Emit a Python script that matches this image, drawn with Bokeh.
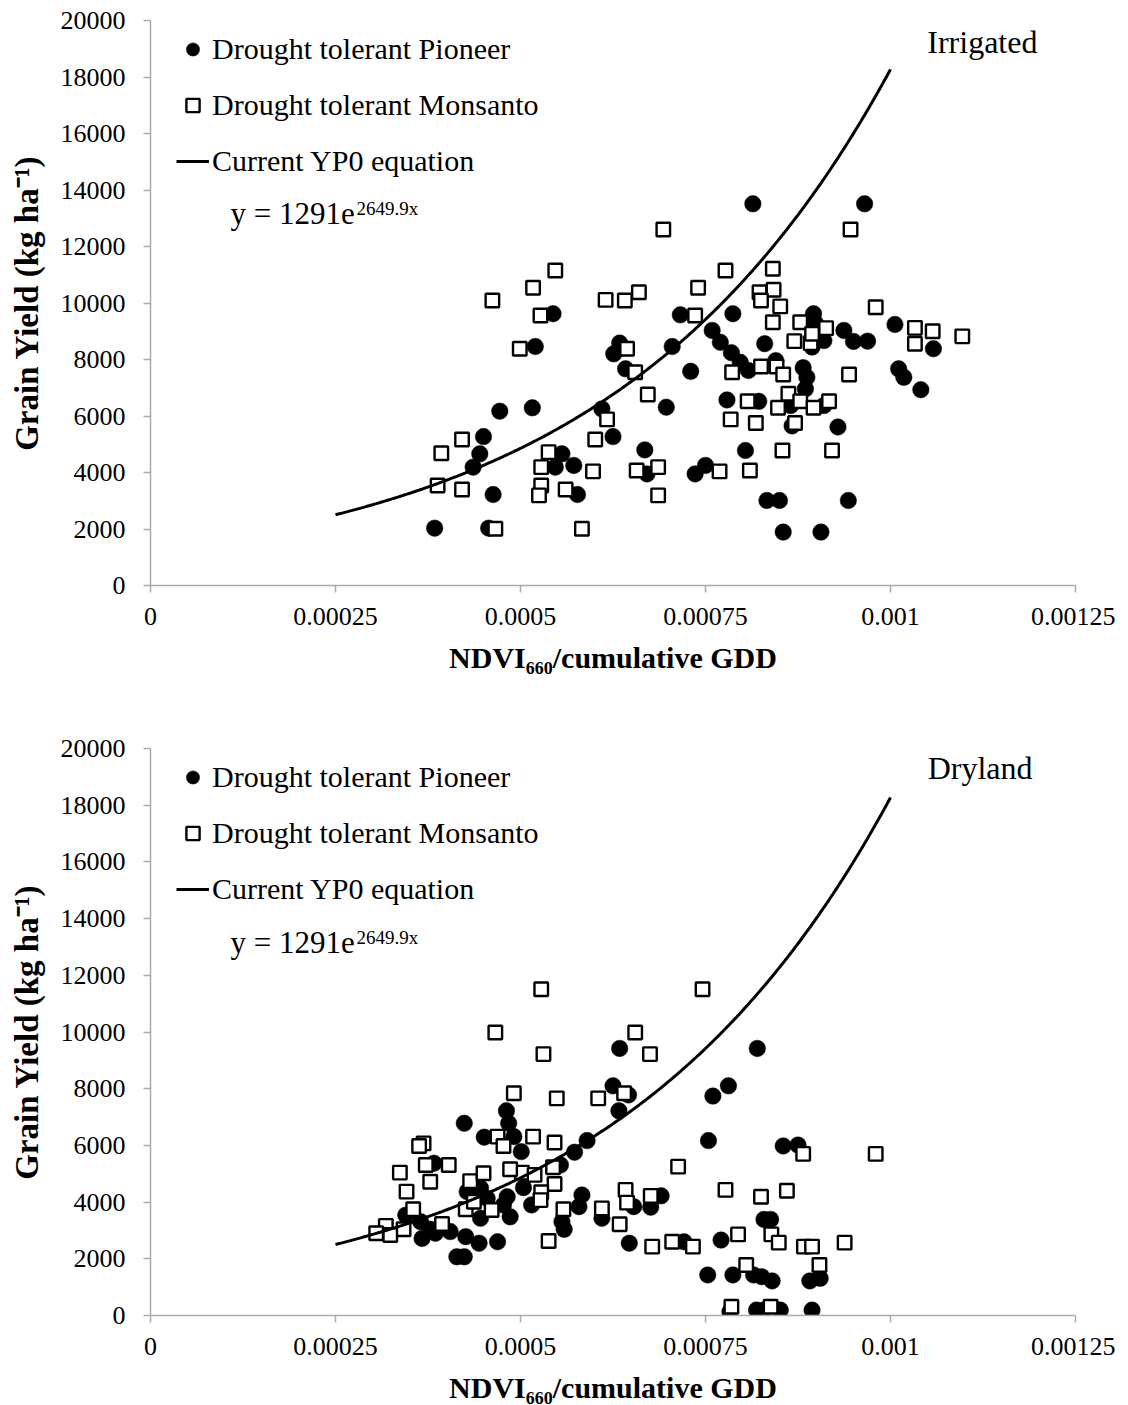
import numpy as np
from bokeh.plotting import figure
from bokeh.layouts import column
from bokeh.models import FixedTicker, Legend, LegendItem, Label, Range1d
from bokeh.embed import file_html
from bokeh.resources import INLINE

FONT = "Liberation Serif"

# ---------------- axes ----------------
x_ticks = [0.0, 0.00025, 0.0005, 0.00075, 0.001, 0.00125]
x_tick_labels = ["0", "0.00025", "0.0005", "0.00075", "0.001", "0.00125"]
y_ticks = [0, 2000, 4000, 6000, 8000, 10000, 12000, 14000, 16000, 18000, 20000]
y_tick_labels = ["0", "2000", "4000", "6000", "8000", "10000", "12000", "14000",
                 "16000", "18000", "20000"]
x_title = "NDVI\u2086\u2086\u2080/cumulative GDD"
y_title = "Grain Yield (kg ha\u207b\u00b9)"

series_names = ["Drought tolerant Pioneer", "Drought tolerant Monsanto", "Current YP0 equation"]
panel_names = ["Irrigated", "Dryland"]

# YP0 equation  y = 1291 e^(2649.9 x)
eq_a = 1291
eq_b = 2649.9
curve_x_start = 0.00025
curve_x_end = 0.001

# ---------------- Irrigated ----------------
irr_pioneer_x = [0.000544, 0.000716, 0.000520, 0.000634, 0.000626, 0.000705, 0.000642, 0.000730,
                 0.000472, 0.000516, 0.000610, 0.000697, 0.000450, 0.000625, 0.000445, 0.000436,
                 0.000556, 0.000547, 0.000572, 0.000668, 0.000671, 0.000736, 0.000750, 0.000463,
                 0.000577, 0.000384, 0.000457, 0.000814, 0.000965, 0.000787, 0.000759, 0.000770,
                 0.000785, 0.000797, 0.000808, 0.000830, 0.000896, 0.000899, 0.000937, 0.000950,
                 0.000969, 0.001006, 0.001058, 0.000910, 0.000894, 0.000845, 0.000882, 0.000887,
                 0.000885, 0.001011, 0.001018, 0.001041, 0.000779, 0.000822, 0.000865, 0.000910,
                 0.000867, 0.000929, 0.000804, 0.000833, 0.000850, 0.000943, 0.000855, 0.000906]
irr_pioneer_y = [9620, 9580, 8460, 8580, 8200, 8460, 7670, 7580,
                 6170, 6290, 6250, 6310, 5270, 5270, 4660, 4190,
                 4660, 4190, 4250, 4800, 3950, 3950, 4250, 3220,
                 3220, 2030, 2030, 13510, 13510, 9620, 9030, 8610,
                 8240, 7900, 7610, 8560, 9620, 9270, 9030, 8640,
                 8650, 9240, 8380, 8670, 8440, 7960, 7710, 7370,
                 6960, 7670, 7370, 6930, 6570, 6520, 6370, 6370,
                 5650, 5610, 4780, 3010, 3010, 3010, 1890, 1890]

irr_monsanto_x = [0.000693, 0.000547, 0.000517, 0.000462, 0.000527, 0.000615, 0.000641, 0.000660,
                  0.000740, 0.000736, 0.000499, 0.000644, 0.000655, 0.000672, 0.000617, 0.000601,
                  0.000421, 0.000393, 0.000538, 0.000528, 0.000598, 0.000657, 0.000686, 0.000388,
                  0.000421, 0.000528, 0.000525, 0.000561, 0.000686, 0.000466, 0.000583, 0.000946,
                  0.000777, 0.000841, 0.000823, 0.000842, 0.000825, 0.000851, 0.000841, 0.000878,
                  0.000913, 0.000870, 0.000892, 0.000894, 0.000980, 0.001033, 0.001057, 0.001033,
                  0.001097, 0.000786, 0.000825, 0.000846, 0.000855, 0.000944, 0.000862, 0.000807,
                  0.000878, 0.000917, 0.000848, 0.000896, 0.000784, 0.000818, 0.000871, 0.000854,
                  0.000921, 0.000769, 0.000810]
irr_monsanto_y = [12600, 11150, 10540, 10090, 9560, 10110, 10090, 10380,
                  10540, 9560, 8380, 8380, 7550, 6760, 5880, 5170,
                  5170, 4680, 4720, 4190, 4040, 4070, 4190, 3540,
                  3400, 3540, 3190, 3400, 3190, 2010, 2010, 12600,
                  11150, 11210, 10380, 10470, 10090, 9880, 9320, 9320,
                  9110, 8650, 8580, 8910, 9850, 9120, 9000, 8560,
                  8820, 7550, 7750, 7750, 7470, 7470, 6790, 6520,
                  6520, 6520, 6290, 6290, 5880, 5750, 5750, 4780,
                  4780, 4040, 4070]

# ---------------- Dryland ----------------
dry_pioneer_x = [0.000481, 0.000484, 0.000491, 0.000451, 0.000424, 0.000501, 0.000590, 0.000573,
                 0.000554, 0.000504, 0.000515, 0.000583, 0.000579, 0.000556, 0.000559, 0.000383,
                 0.000428, 0.000446, 0.000482, 0.000345, 0.000365, 0.000446, 0.000486, 0.000367,
                 0.000385, 0.000405, 0.000426, 0.000444, 0.000469, 0.000414, 0.000424, 0.000455,
                 0.000477, 0.000378, 0.000634, 0.000820, 0.000625, 0.000646, 0.000633, 0.000781,
                 0.000760, 0.000754, 0.000855, 0.000875, 0.000690, 0.000676, 0.000653, 0.000610,
                 0.000647, 0.000721, 0.000771, 0.000829, 0.000838, 0.000753, 0.000787, 0.000815,
                 0.000826, 0.000840, 0.000891, 0.000905, 0.000783, 0.000819, 0.000829, 0.000851,
                 0.000894]
dry_pioneer_y = [7220, 6780, 6310, 6290, 6780, 5780, 6170, 5760,
                 5310, 4510, 3900, 4250, 3840, 3310, 3040, 5370,
                 4370, 4490, 4190, 3540, 3310, 3430, 3480, 2720,
                 2900, 2960, 2780, 2550, 2600, 2070, 2070, 4130,
                 3900, 3040, 9420, 9420, 8100, 7780, 7220, 8100,
                 7740, 6170, 5980, 6010, 4220, 3820, 3840, 3430,
                 2550, 2600, 2660, 3390, 3390, 1430, 1430, 1430,
                 1370, 1220, 1220, 1310, 130, 190, 190, 190,
                 190]

dry_monsanto_x = [0.000528, 0.000466, 0.000531, 0.000491, 0.000549, 0.000605, 0.000517, 0.000546,
                  0.000502, 0.000519, 0.000544, 0.000546, 0.000528, 0.000527, 0.000558, 0.000538,
                  0.000369, 0.000363, 0.000337, 0.000372, 0.000403, 0.000378, 0.000432, 0.000450,
                  0.000469, 0.000477, 0.000486, 0.000346, 0.000355, 0.000426, 0.000461, 0.000394,
                  0.000318, 0.000342, 0.000305, 0.000324, 0.000437, 0.000746, 0.000655, 0.000675,
                  0.000640, 0.000980, 0.000882, 0.000713, 0.000642, 0.000644, 0.000676, 0.000610,
                  0.000777, 0.000825, 0.000860, 0.000634, 0.000678, 0.000705, 0.000733, 0.000794,
                  0.000839, 0.000849, 0.000883, 0.000894, 0.000938, 0.000805, 0.000904, 0.000785,
                  0.000838]
dry_monsanto_y = [11510, 9980, 9220, 7840, 7660, 7660, 6310, 6100,
                  5040, 4960, 5230, 4640, 4350, 4070, 3750, 2630,
                  6070, 5980, 5040, 5310, 5310, 4720, 4740, 5020,
                  6310, 5980, 5160, 4370, 3750, 3750, 3720, 3230,
                  3160, 3040, 2900, 2840, 4010, 11510, 9980, 9220,
                  7840, 5700, 5700, 5250, 4430, 3980, 4220, 3780,
                  4430, 4190, 4400, 3220, 2430, 2600, 2430, 2860,
                  2860, 2570, 2430, 2430, 2570, 1780, 1780, 310,
                  310]

AXIS_GREY = "#ababab"


def make_panel(pio_x, pio_y, mon_x, mon_y, name, name_x, name_y,
               frame_h, border_top, border_bottom):
    p = figure(frame_width=925, frame_height=frame_h,
               x_range=Range1d(0, 0.00125), y_range=Range1d(0, 20000),
               output_backend="svg", toolbar_location=None,
               min_border_left=150, min_border_right=40,
               min_border_top=border_top, min_border_bottom=border_bottom)
    p.outline_line_color = None
    p.grid.visible = False
    p.background_fill_color = "white"
    p.border_fill_color = "white"

    for ax in (p.xaxis[0], p.yaxis[0]):
        ax.axis_line_color = AXIS_GREY
        ax.axis_line_width = 1.5
        ax.major_tick_line_color = AXIS_GREY
        ax.major_tick_line_width = 1.5
        ax.major_tick_out = 7
        ax.major_tick_in = 0
        ax.minor_tick_line_color = None
        ax.major_label_text_font = FONT
        ax.major_label_text_font_size = "26px"
        ax.major_label_text_color = "black"
        ax.axis_label_text_font = FONT
        ax.axis_label_text_font_style = "bold"
        ax.axis_label_text_color = "black"

    p.xaxis.ticker = FixedTicker(ticks=x_ticks)
    p.xaxis.major_label_overrides = dict(zip(x_ticks, x_tick_labels))
    p.xaxis.major_label_standoff = 15
    p.xaxis.axis_label = x_title
    p.xaxis.axis_label_text_font_size = "30px"
    p.xaxis.axis_label_standoff = 13

    p.yaxis.ticker = FixedTicker(ticks=y_ticks)
    p.yaxis.major_label_overrides = dict(zip(y_ticks, y_tick_labels))
    p.yaxis.major_label_standoff = 18
    p.yaxis.axis_label = y_title
    p.yaxis.axis_label_text_font_size = "33px"
    p.yaxis.axis_label_standoff = 13

    r_p = p.scatter(pio_x, pio_y, marker="circle", size=16.5,
                    fill_color="black", line_color="black", line_width=0.5)
    r_m = p.scatter(mon_x, mon_y, marker="square", size=13.5,
                    fill_color="white", line_color="black", line_width=2.4)
    cx = np.linspace(curve_x_start, curve_x_end, 300)
    cy = eq_a * np.exp(eq_b * cx)
    r_l = p.line(cx, cy, line_color="black", line_width=3)

    legend = Legend(items=[LegendItem(label=series_names[0], renderers=[r_p]),
                           LegendItem(label=series_names[1], renderers=[r_m]),
                           LegendItem(label=series_names[2], renderers=[r_l])],
                    location=(26, frame_h - 159), orientation="vertical",
                    glyph_width=33, glyph_height=36, label_height=36,
                    spacing=20, padding=5, margin=0, label_standoff=3,
                    border_line_color=None, background_fill_alpha=0,
                    label_text_font=FONT, label_text_font_size="30px",
                    label_text_color="black")
    p.add_layout(legend)

    p.add_layout(Label(x=0.000108, y=13170, text="y = 1291e", text_font=FONT,
                       text_font_size="31px", text_baseline="alphabetic",
                       text_color="black"))
    p.add_layout(Label(x=0.000108, y=13350, x_offset=126, text="2649.9x", text_font=FONT,
                       text_font_size="19px", text_baseline="alphabetic",
                       text_color="black"))
    p.add_layout(Label(x=name_x, y=name_y, text=name, text_font=FONT,
                       text_font_size="32px", text_align="right",
                       text_baseline="alphabetic", text_color="black"))
    return p


p1 = make_panel(irr_pioneer_x, irr_pioneer_y, irr_monsanto_x, irr_monsanto_y,
                panel_names[0], 0.0011986, 19225, 565, 20, 100)
p2 = make_panel(dry_pioneer_x, dry_pioneer_y, dry_monsanto_x, dry_monsanto_y,
                panel_names[1], 0.0011919, 19324, 567, 63, 88)

layout = column(p1, p2, spacing=0)
open("out.html", "w").write(file_html(layout, INLINE))
